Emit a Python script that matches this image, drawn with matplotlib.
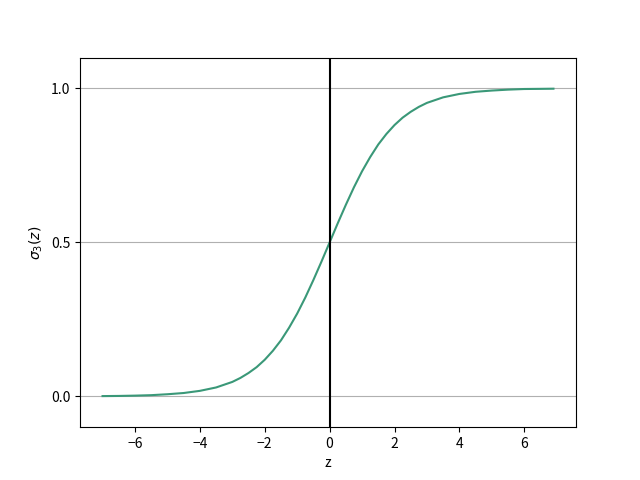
import matplotlib
matplotlib.use("Agg")
import matplotlib.pyplot as plt

plt.rcParams['font.family'] = ['Noto Sans CJK JP', 'DejaVu Sans']
plt.rcParams['axes.unicode_minus'] = True

# values
z = [-7.0, -6.5, -6.0, -5.5, -5.0, -4.5, -4.0, -3.5, -3.0, -2.75, -2.5,
     -2.25, -2.0, -1.75, -1.5, -1.25, -1.0, -0.75, -0.5, -0.25, 0.0,
     0.25, 0.5, 0.75, 1.0, 1.25, 1.5, 1.75, 2.0, 2.25, 2.5, 2.75, 3.0,
     3.5, 4.0, 4.5, 5.0, 5.5, 6.0, 6.5, 6.9]
phi_z = [0.001, 0.0015, 0.0025, 0.004, 0.007, 0.011, 0.018, 0.029, 0.047,
         0.060, 0.076, 0.095, 0.119, 0.148, 0.182, 0.223, 0.269, 0.321,
         0.378, 0.438, 0.5, 0.562, 0.622, 0.679, 0.731, 0.777, 0.818,
         0.852, 0.881, 0.905, 0.924, 0.940, 0.953, 0.971, 0.982, 0.989,
         0.993, 0.996, 0.998, 0.9985, 0.999]
y_ticks = [0.0, 0.5, 1.0]

fig, ax = plt.subplots(figsize=(6.4, 4.8), dpi=100)
ax.plot(z, phi_z, color='#3a9878')
ax.axvline(0.0, color='k')
ax.set_ylim(-0.1, 1.1)
ax.set_xlabel('z')
ax.set_ylabel(r'$\sigma_3(z)$')
ax.set_yticks(y_ticks)
ax.yaxis.grid(True)

fig.savefig('out.png')
